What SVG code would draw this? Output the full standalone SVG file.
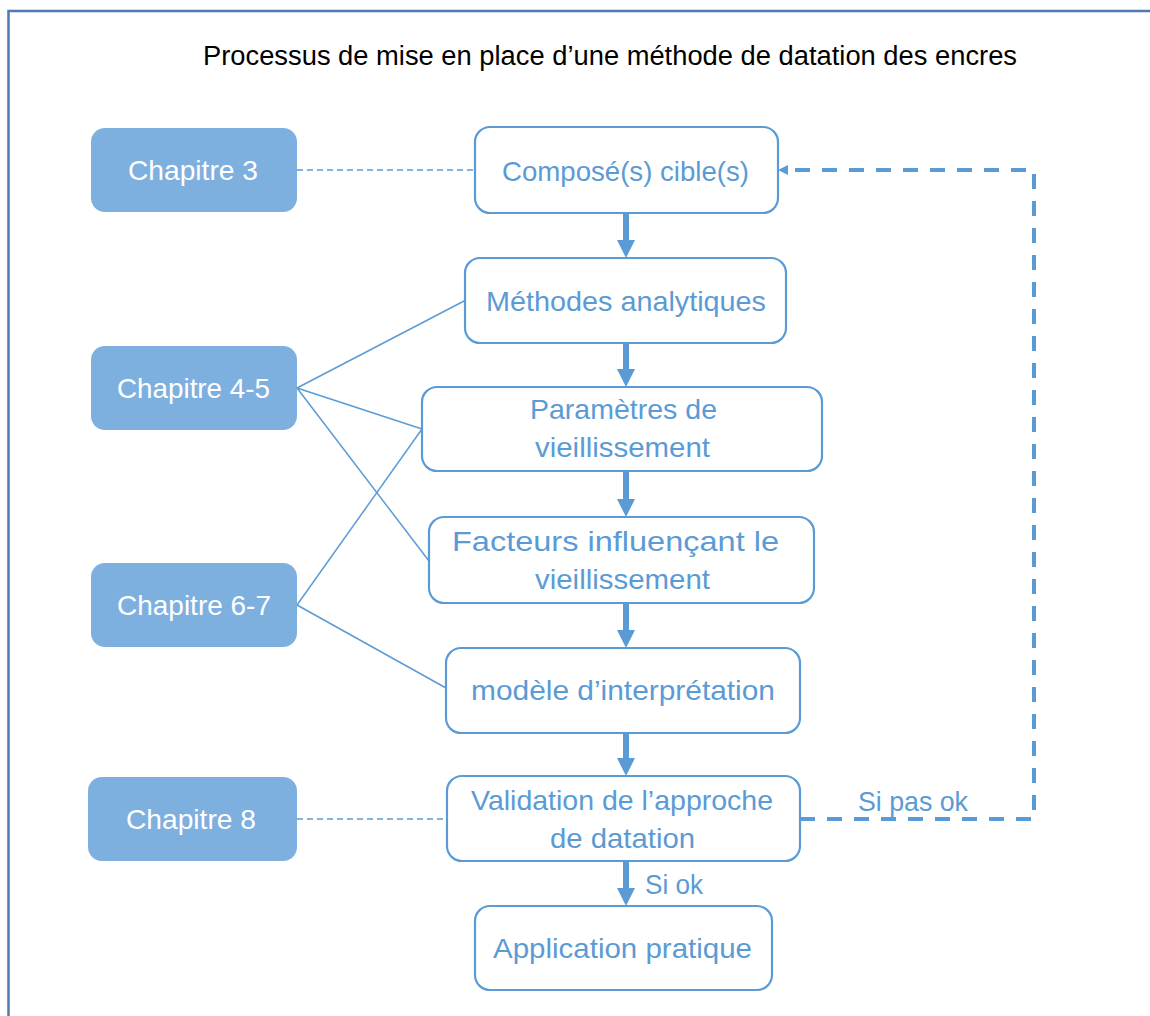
<svg xmlns="http://www.w3.org/2000/svg" width="1150" height="1016" viewBox="0 0 1150 1016">
  <style>
    .chap rect { fill: #7eb0df; stroke: none; }
    .chap text { fill: #ffffff; font-family: "Liberation Sans", Arial, sans-serif; font-size: 28.5px; }
    .step rect { fill: #ffffff; stroke: #5b9bd5; stroke-width: 2.2; }
    .step text { fill: #5b9bd5; font-family: "Liberation Sans", Arial, sans-serif; font-size: 28.5px; }
    .lbl { fill: #5b9bd5; font-family: "Liberation Sans", Arial, sans-serif; font-size: 28.5px; }
    .title { fill: #000000; font-family: "Liberation Sans", Arial, sans-serif; font-size: 27px; }
    .flow { stroke: #5b9bd5; stroke-width: 6; fill: none; }
    .thin { stroke: #5b9bd5; stroke-width: 1.5; fill: none; }
    .thindash { stroke: #5b9bd5; stroke-width: 1.5; fill: none; stroke-dasharray: 6 4; }
    .loop { stroke: #5b9bd5; stroke-width: 4; fill: none; stroke-dasharray: 15 12; }
  </style>
  <defs>
    <marker id="bigHead" markerUnits="userSpaceOnUse" viewBox="0 0 18 18" markerWidth="18" markerHeight="18" refX="0" refY="9" orient="auto">
      <path d="M0,0 L18,9 L0,18 Z" fill="#5b9bd5"/>
    </marker>
    <marker id="smallHead" markerUnits="userSpaceOnUse" viewBox="0 0 10 10" markerWidth="10" markerHeight="10" refX="0" refY="5" orient="auto">
      <path d="M0,0 L10,5 L0,10 Z" fill="#5b9bd5"/>
    </marker>
  </defs>

  <rect x="8.5" y="11" width="1300" height="1200" fill="#ffffff" stroke="#4e7bb0" stroke-width="2.5"/>

  <text class="title" x="203" y="65" textLength="814" lengthAdjust="spacingAndGlyphs">Processus de mise en place d’une méthode de datation des encres</text>

  <g id="connectors">
    <line class="thindash" x1="297" y1="170" x2="475" y2="170"/>
    <line class="thindash" x1="297" y1="819" x2="447" y2="819"/>
    <line class="thin" x1="297" y1="388" x2="466" y2="300"/>
    <line class="thin" x1="297" y1="388" x2="422" y2="429"/>
    <line class="thin" x1="297" y1="388" x2="429" y2="561"/>
    <line class="thin" x1="297" y1="605" x2="422" y2="429"/>
    <line class="thin" x1="297" y1="605" x2="446" y2="688"/>
    <line class="flow" x1="626" y1="213" x2="626" y2="240" marker-end="url(#bigHead)"/>
    <line class="flow" x1="626" y1="343" x2="626" y2="369" marker-end="url(#bigHead)"/>
    <line class="flow" x1="626" y1="471" x2="626" y2="499" marker-end="url(#bigHead)"/>
    <line class="flow" x1="626" y1="603" x2="626" y2="630" marker-end="url(#bigHead)"/>
    <line class="flow" x1="626" y1="733" x2="626" y2="758" marker-end="url(#bigHead)"/>
    <line class="flow" x1="626" y1="861" x2="626" y2="888" marker-end="url(#bigHead)"/>
    <polyline class="loop" points="800,819 1034,819 1034,170 788,170" marker-end="url(#smallHead)"/>
    <text class="lbl" x="645" y="894" textLength="58" lengthAdjust="spacingAndGlyphs">Si ok</text>
    <text class="lbl" x="858" y="811" textLength="110" lengthAdjust="spacingAndGlyphs">Si pas ok</text>
  </g>

  <g id="chap3" class="chap">
    <rect x="91" y="128" width="206" height="84" rx="14"/>
    <text x="128" y="180" textLength="130" lengthAdjust="spacingAndGlyphs">Chapitre 3</text>
  </g>
  <g id="chap45" class="chap">
    <rect x="91" y="346" width="206" height="84" rx="14"/>
    <text x="117" y="398" textLength="153" lengthAdjust="spacingAndGlyphs">Chapitre 4-5</text>
  </g>
  <g id="chap67" class="chap">
    <rect x="91" y="563" width="206" height="84" rx="14"/>
    <text x="117" y="615" textLength="154" lengthAdjust="spacingAndGlyphs">Chapitre 6-7</text>
  </g>
  <g id="chap8" class="chap">
    <rect x="88" y="777" width="209" height="84" rx="14"/>
    <text x="126" y="829" textLength="130" lengthAdjust="spacingAndGlyphs">Chapitre 8</text>
  </g>

  <g id="compose" class="step">
    <rect x="475" y="127" width="303" height="86" rx="15"/>
    <text x="502" y="181" textLength="247" lengthAdjust="spacingAndGlyphs">Composé(s) cible(s)</text>
  </g>
  <g id="methodes" class="step">
    <rect x="465" y="258" width="321" height="85" rx="15"/>
    <text x="486" y="311" textLength="280" lengthAdjust="spacingAndGlyphs">Méthodes analytiques</text>
  </g>
  <g id="parametres" class="step">
    <rect x="422" y="387" width="400" height="84" rx="15"/>
    <text x="530" y="419" textLength="187" lengthAdjust="spacingAndGlyphs">Paramètres de</text>
    <text x="535" y="457" textLength="175" lengthAdjust="spacingAndGlyphs">vieillissement</text>
  </g>
  <g id="facteurs" class="step">
    <rect x="429" y="517" width="385" height="86" rx="15"/>
    <text x="452" y="551" textLength="327" lengthAdjust="spacingAndGlyphs">Facteurs influençant le</text>
    <text x="535" y="589" textLength="175" lengthAdjust="spacingAndGlyphs">vieillissement</text>
  </g>
  <g id="modele" class="step">
    <rect x="446" y="648" width="354" height="85" rx="15"/>
    <text x="471" y="700" textLength="304" lengthAdjust="spacingAndGlyphs">modèle d’interprétation</text>
  </g>
  <g id="validation" class="step">
    <rect x="447" y="776" width="353" height="85" rx="15"/>
    <text x="471" y="810" textLength="302" lengthAdjust="spacingAndGlyphs">Validation de l’approche</text>
    <text x="550" y="848" textLength="145" lengthAdjust="spacingAndGlyphs">de datation</text>
  </g>
  <g id="application" class="step">
    <rect x="475" y="906" width="297" height="84" rx="15"/>
    <text x="493" y="958" textLength="259" lengthAdjust="spacingAndGlyphs">Application pratique</text>
  </g>
</svg>
